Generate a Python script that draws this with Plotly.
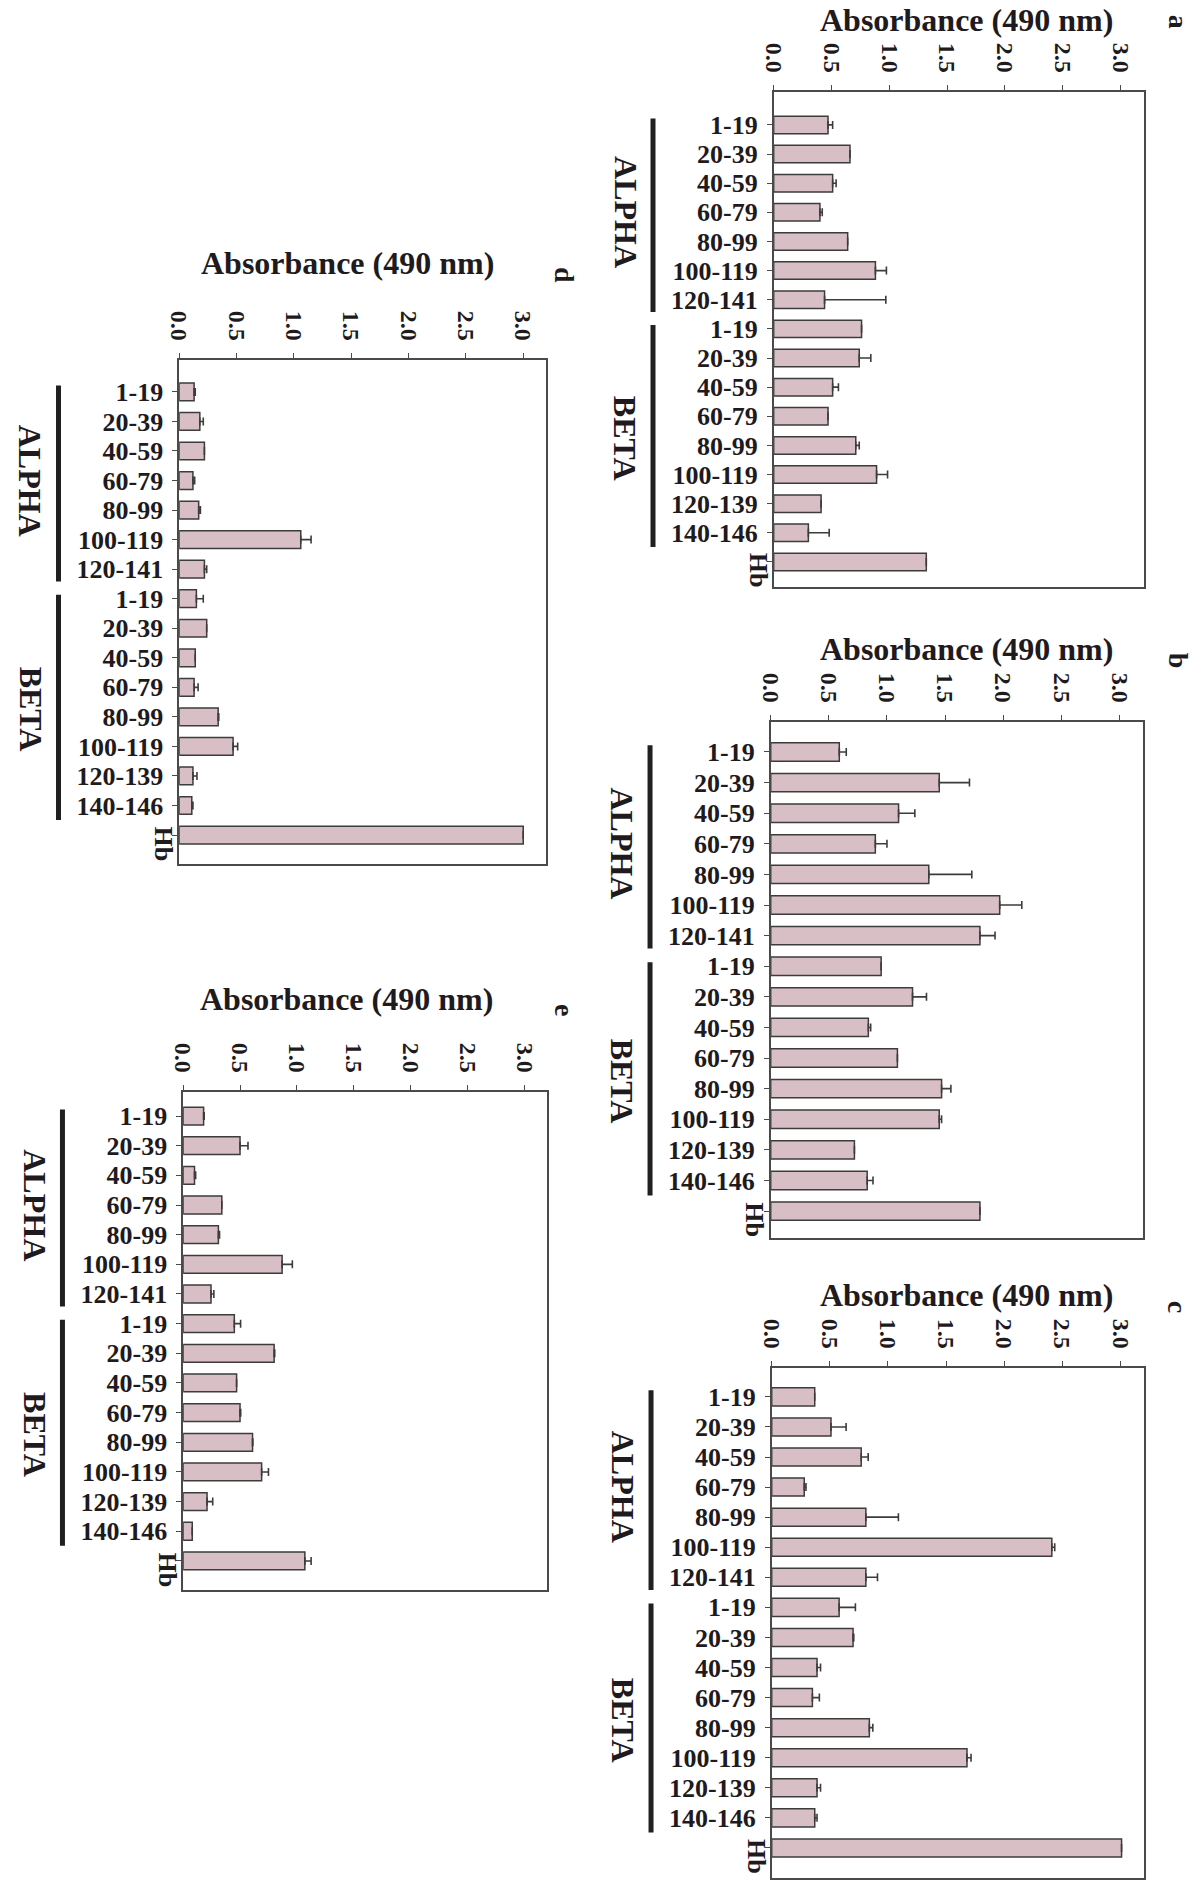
import plotly.graph_objects as go

W, H = 1203, 1893

# Peptide segments (alpha chain, beta chain) and whole haemoglobin
segments = ["1-19", "20-39", "40-59", "60-79", "80-99", "100-119", "120-141",
            "1-19", "20-39", "40-59", "60-79", "80-99", "100-119", "120-139", "140-146",
            "Hb"]

# Absorbance at 490 nm and the upper error (SD) for each panel
abs_a = [0.47, 0.66, 0.51, 0.40, 0.64, 0.88, 0.44,
         0.76, 0.74, 0.51, 0.47, 0.71, 0.89, 0.41, 0.30, 1.32]
err_a = [0.04, 0.0, 0.03, 0.02, 0.0, 0.095, 0.53,
         0.0, 0.10, 0.05, 0.0, 0.03, 0.095, 0.0, 0.18, 0.0]

abs_b = [0.59, 1.45, 1.10, 0.90, 1.36, 1.97, 1.80,
         0.95, 1.22, 0.84, 1.09, 1.47, 1.45, 0.72, 0.83, 1.80]
err_b = [0.06, 0.26, 0.14, 0.10, 0.37, 0.19, 0.13,
         0.0, 0.12, 0.02, 0.0, 0.08, 0.02, 0.0, 0.05, 0.0]

abs_c = [0.37, 0.51, 0.77, 0.28, 0.81, 2.41, 0.81,
         0.58, 0.70, 0.39, 0.35, 0.84, 1.68, 0.39, 0.37, 3.01]
err_c = [0.0, 0.13, 0.06, 0.015, 0.28, 0.025, 0.10,
         0.14, 0.006, 0.03, 0.06, 0.03, 0.035, 0.03, 0.02, 0.0]

abs_d = [0.13, 0.18, 0.22, 0.12, 0.17, 1.06, 0.22,
         0.15, 0.24, 0.14, 0.13, 0.34, 0.47, 0.12, 0.11, 3.00]
err_d = [0.01, 0.03, 0.0, 0.015, 0.015, 0.09, 0.02,
         0.06, 0.0, 0.0, 0.035, 0.005, 0.04, 0.035, 0.01, 0.0]

abs_e = [0.18, 0.50, 0.10, 0.34, 0.31, 0.87, 0.245,
         0.45, 0.80, 0.47, 0.50, 0.61, 0.69, 0.21, 0.08, 1.07]
err_e = [0.005, 0.07, 0.01, 0.0, 0.01, 0.09, 0.025,
         0.055, 0.005, 0.0, 0.006, 0.003, 0.06, 0.05, 0.0, 0.055]

x_ticks = [0.0, 0.5, 1.0, 1.5, 2.0, 2.5, 3.0]
x_tick_text = ["0.0", "0.5", "1.0", "1.5", "2.0", "2.5", "3.0"]

panel_letters = ["a", "b", "c", "d", "e"]
panel_values = [abs_a, abs_b, abs_c, abs_d, abs_e]
panel_errors = [err_a, err_b, err_c, err_d, err_e]

# Frame of each panel in pixels: left, right, top, bottom, gap above first bar, gap below Hb (in slots)
frames = [
    (769, 1143, 92, 587, 1.13, 0.86),
    (766, 1142, 722, 1238, 0.98, 0.88),
    (767, 1143, 1368, 1878, 0.96, 1.00),
    (168, 539, 360, 864, 1.08, 0.98),
    (172, 540, 1092, 1590, 0.81, 0.98),
]
# Title centre and panel letter centre in pixels
title_pos = [(964, 20), (964, 649), (964, 1295), (338, 263), (337, 999)]
letter_pos = [(1178, 22), (1178, 661), (1178, 1307), (558, 275), (558, 1010)]

FONT = "Liberation Serif, Times New Roman, serif"
BAR_FILL = "#d8bfc5"
EDGE = "#3c3c3c"
INK = "#1e1a1d"

n = len(segments)
positions = list(range(n))

fig = go.Figure()
annotations = []
shapes = []


def label(x, y, text, size, xref="paper", yref="paper", angle=0):
    return dict(x=x, y=y, xref=xref, yref=yref, text=text, textangle=angle,
                showarrow=False, xanchor="center", yanchor="middle",
                font=dict(family=FONT, size=size, color=INK, weight="bold"))


for i, (vals, errs) in enumerate(zip(panel_values, panel_errors)):
    k = "" if i == 0 else str(i + 1)
    left, right, top, bottom, gtop, gbot = frames[i]
    fig.add_trace(go.Bar(
        x=vals, y=positions, orientation="h",
        marker=dict(color=BAR_FILL, line=dict(color=EDGE, width=1.5)),
        width=0.6,
        error_x=dict(type="data", array=errs, arrayminus=[0] * n, symmetric=False,
                     color=EDGE, thickness=1.6, width=4),
        xaxis="x" + k, yaxis="y" + k, showlegend=False,
        hovertemplate="%{x}<extra></extra>",
    ))
    axis_common = dict(showline=True, linecolor="#4a4a4a", linewidth=1.5, mirror=True,
                       showgrid=False, zeroline=False, ticks="outside", ticklen=5,
                       tickcolor="#4a4a4a", tickwidth=1.2)
    fig.update_layout(**{
        "xaxis" + k: dict(
            domain=[left / W, right / W], anchor="y" + k, side="top",
            range=[0, 3.2], tickvals=x_ticks, ticktext=x_tick_text, tickangle=90,
            tickfont=dict(family=FONT, size=24, color=INK, weight="bold"),
            ticklabelstandoff=4, **axis_common),
        "yaxis" + k: dict(
            domain=[1 - bottom / H, 1 - top / H], anchor="x" + k,
            range=[n - 1 + gbot, -gtop], tickvals=positions,
            ticktext=segments[:-1] + [""],
            tickfont=dict(family=FONT, size=26, color=INK, weight="bold"),
            ticklabelstandoff=4, **axis_common),
    })

    # rotated Hb label
    annotations.append(label((left - 16) / W, n - 1 + 0.3, segments[-1], 26,
                             yref="y" + k, angle=90))

    # ALPHA / BETA chain brackets and labels
    for name, y0, y1, yc in [("ALPHA", -0.22, 6.42, 3.0), ("BETA", 6.87, 14.49, 10.75)]:
        shapes.append(dict(type="line", xref="paper", yref="y" + k,
                           x0=(left - 122) / W, x1=(left - 122) / W, y0=y0, y1=y1,
                           line=dict(color="#202020", width=5)))
        annotations.append(label((left - 150) / W, yc, name, 32, yref="y" + k, angle=90))

    tx, ty = title_pos[i]
    annotations.append(label(tx / W, 1 - ty / H, "Absorbance (490 nm)", 32))
    lx, ly = letter_pos[i]
    annotations.append(label(lx / W, 1 - ly / H, panel_letters[i], 28, angle=90))

fig.update_layout(
    width=W, height=H,
    margin=dict(l=0, r=0, t=0, b=0),
    paper_bgcolor="white", plot_bgcolor="white",
    annotations=annotations, shapes=shapes,
    bargap=0.4,
)

fig.write_html("out.html")
